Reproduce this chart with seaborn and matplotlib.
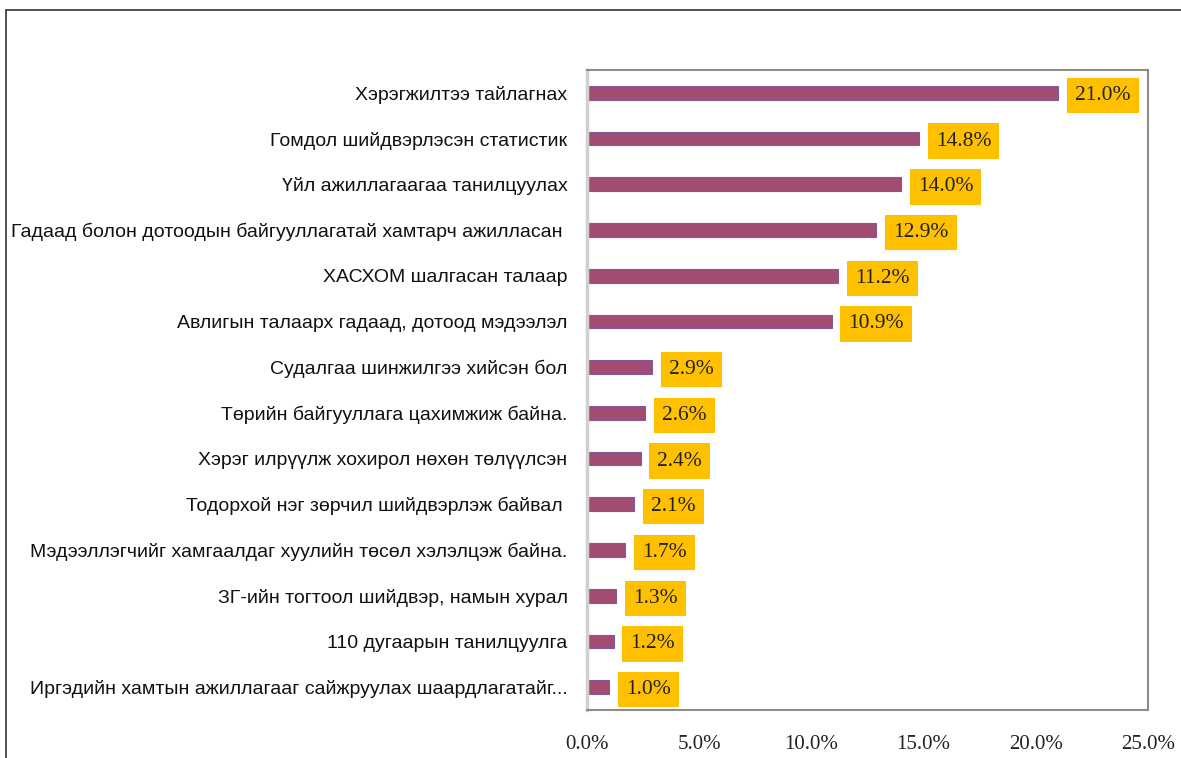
import numpy as np
import pandas as pd
import matplotlib.pyplot as plt
from matplotlib.lines import Line2D
import seaborn as sns

# data, top to bottom
categories = [
    "Хэрэгжилтээ тайлагнах",
    "Гомдол шийдвэрлэсэн статистик",
    "Үйл ажиллагаагаа танилцуулах",
    "Гадаад болон дотоодын байгууллагатай хамтарч ажилласан ",
    "ХАСХОМ шалгасан талаар",
    "Авлигын талаарх гадаад, дотоод мэдээлэл",
    "Судалгаа шинжилгээ хийсэн бол",
    "Төрийн байгууллага цахимжиж байна.",
    "Хэрэг илрүүлж хохирол нөхөн төлүүлсэн",
    "Тодорхой нэг зөрчил шийдвэрлэж байвал ",
    "Мэдээллэгчийг хамгаалдаг хуулийн төсөл хэлэлцэж байна.",
    "ЗГ-ийн тогтоол шийдвэр, намын хурал",
    "110 дугаарын танилцуулга",
    "Иргэдийн хамтын ажиллагааг сайжруулах шаардлагатайг...",
]
values = [21.0, 14.8, 14.0, 12.9, 11.2, 10.9, 2.9, 2.6, 2.4, 2.1, 1.7, 1.3, 1.2, 1.0]
xticks = [0, 5, 10, 15, 20, 25]

df = pd.DataFrame({"cat": categories, "val": values})

sns.set_theme(style="white")
plt.rcParams["font.family"] = ["Liberation Sans", "DejaVu Sans"]

fig = plt.figure(figsize=(11.81, 7.58), dpi=100)
ax = fig.add_axes([0.497, 0.0633, 0.475, 0.8443])

sns.barplot(data=df, x="val", y="cat", orient="h", width=0.3,
            color="#A34C72", edgecolor="#7E5A9E", linewidth=0.8, ax=ax,
            saturation=1)

# yellow value boxes
for i, v in enumerate(values):
    ax.annotate(f"{v:.1f}%", xy=(v, i), xytext=(12, 0), textcoords="offset points",
                ha="left", va="center_baseline", fontsize=15.5, family="Liberation Serif",
                color="#222222",
                bbox=dict(boxstyle="square,pad=0.38", fc="#FFC000", ec="none"))

ax.set_xlim(0, 25)
ax.set_ylim(13.5, -0.5)
ax.set_xticks(xticks)
ax.set_xticklabels([f"{t:.1f}%" for t in xticks], family="Liberation Serif", fontsize=15,
                   color="#222222")
ax.tick_params(axis="x", length=0, pad=18)
ax.tick_params(axis="y", length=0, pad=14, labelsize=14, labelcolor="#111111")
ax.set_xlabel("")
ax.set_ylabel("")

for s in ["top", "right", "bottom"]:
    ax.spines[s].set_color("#8C8C8C")
    ax.spines[s].set_linewidth(1.5)
ax.spines["left"].set_color("#D0D0D0")
ax.spines["left"].set_linewidth(2.5)

# outer chart frame
fig.add_artist(Line2D([6 / 1181, 1], [1 - 10 / 758, 1 - 10 / 758], color="#333333", lw=1.2,
                      transform=fig.transFigure))
fig.add_artist(Line2D([6 / 1181, 6 / 1181], [0, 1 - 10 / 758], color="#333333", lw=1.2,
                      transform=fig.transFigure))

fig.savefig("out.png", dpi=100)
